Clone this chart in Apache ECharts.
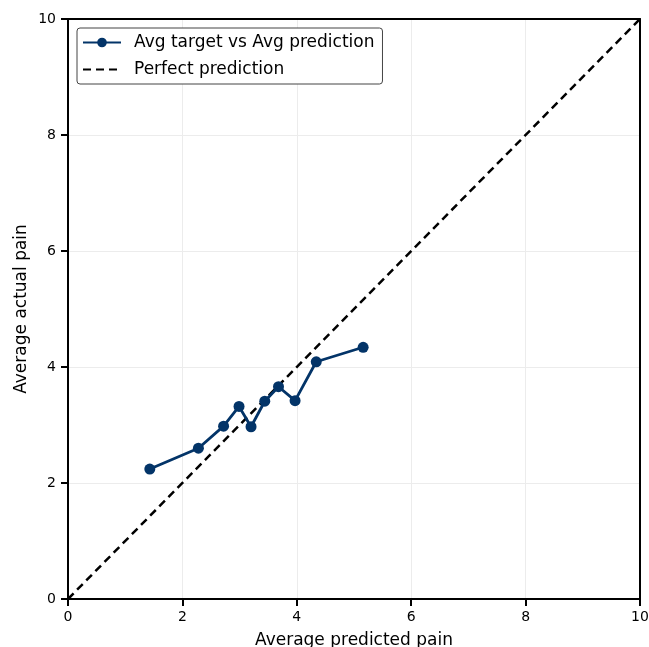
<!DOCTYPE html>
<html>
<head>
<meta charset="utf-8">
<script src="https://cdn.jsdelivr.net/npm/echarts@6/dist/echarts.min.js"></script>
<style>
  html, body { margin: 0; padding: 0; background: #fff; }
  #chart { width: 649px; height: 647px; }
</style>
</head>
<body>
<div id="chart"></div>
<script>
// average predicted pain (x) vs average actual pain (y), one point per bin
const avgPredicted = [1.43, 2.28, 2.72, 2.99, 3.20, 3.44, 3.68, 3.97, 4.34, 5.16];
const avgActual = [2.24, 2.60, 2.98, 3.32, 2.97, 3.41, 3.66, 3.42, 4.09, 4.34];
const perfectLine = [[0, 0], [10, 10]];

const font = 'DejaVu Sans';
const navy = '#033468';
const chart = echarts.init(document.getElementById('chart'));

const axisCommon = {
  type: 'value',
  min: 0,
  max: 10,
  interval: 2,
  nameLocation: 'middle',
  nameMoveOverlap: false,
  nameTextStyle: { fontFamily: font, fontSize: 17, color: '#000' },
  axisLine: { show: true, onZero: false, lineStyle: { color: '#000', width: 2 } },
  axisTick: { show: true, length: 7, lineStyle: { color: '#000', width: 2 } },
  axisLabel: { fontFamily: font, fontSize: 14, color: '#000', margin: 12 },
  splitLine: { show: true, lineStyle: { color: '#ececec', width: 1 } }
};

// plain axes on the top and right just to close the frame
const frameAxis = {
  type: 'value', min: 0, max: 10,
  axisLine: { show: true, onZero: false, lineStyle: { color: '#000', width: 2 } },
  axisTick: { show: false }, axisLabel: { show: false }, splitLine: { show: false }
};

chart.setOption({
  animation: false,
  backgroundColor: '#fff',
  grid: { left: 68, right: 9, top: 19, bottom: 48, outerBoundsMode: 'none', containLabel: false },
  legend: {
    left: 77,
    top: 28,
    orient: 'vertical',
    backgroundColor: '#fff',
    borderColor: '#444',
    borderWidth: 1,
    borderRadius: 3,
    padding: [6, 8, 6, 5],
    itemGap: 10,
    itemWidth: 38,
    itemHeight: 12,
    textStyle: { fontFamily: font, fontSize: 17, color: '#000', padding: [0, 0, 0, 8] },
    data: [
      { name: 'Avg target vs Avg prediction' },
      { name: 'Perfect prediction', itemStyle: { opacity: 0 } }
    ]
  },
  xAxis: [
    Object.assign({}, axisCommon, {
      name: 'Average predicted pain',
      nameGap: 33,
      axisLabel: Object.assign({}, axisCommon.axisLabel, { margin: 11 })
    }),
    Object.assign({}, frameAxis, { position: 'top' })
  ],
  yAxis: [
    Object.assign({}, axisCommon, { name: 'Average actual pain', nameGap: 38 }),
    Object.assign({}, frameAxis, { position: 'right' })
  ],
  series: [
    {
      name: 'Perfect prediction',
      type: 'line',
      data: perfectLine,
      symbol: 'none',
      itemStyle: { color: '#000' },
      lineStyle: { color: '#000', width: 2.5, type: [8, 5] },
      z: 3
    },
    {
      name: 'Avg target vs Avg prediction',
      type: 'line',
      data: avgPredicted.map((x, i) => [x, avgActual[i]]),
      symbol: 'circle',
      symbolSize: 11,
      itemStyle: { color: navy },
      lineStyle: { color: navy, width: 2.8 },
      z: 4
    }
  ]
});
</script>
</body>
</html>
